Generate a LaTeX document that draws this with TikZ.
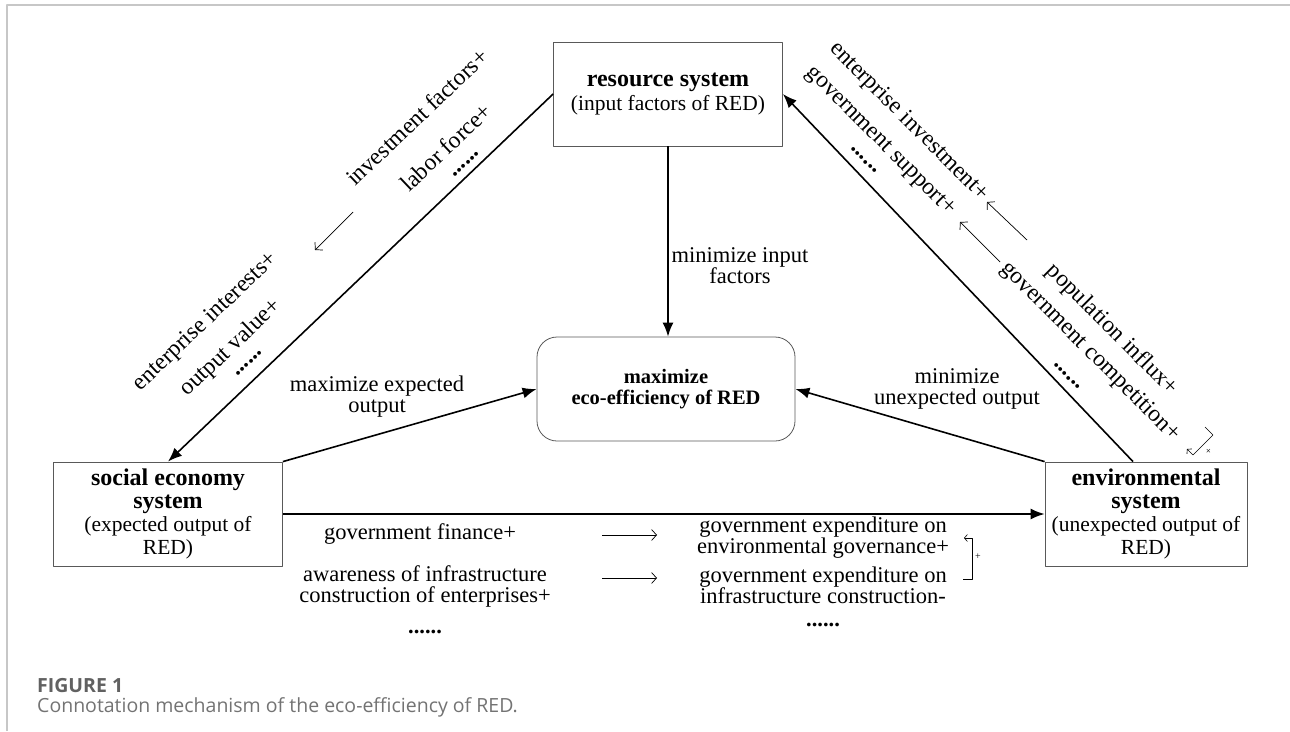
\documentclass[tikz,border=0pt]{standalone}
\usepackage{fontspec}
\setmainfont{Liberation Serif}
\newfontfamily\capfont{Open Sans}
\usetikzlibrary{arrows.meta}

\newcommand{\systitle}[1]{{\fontsize{24}{23.3}\selectfont\bfseries #1}}

\begin{document}
\begin{tikzpicture}[x=1pt,y=1pt,>={Latex[length=14pt,width=11pt]},line join=round,
	sysbox/.style={draw=black!65,line width=0.8pt,minimum width=229pt,minimum height=104pt,inner sep=2pt,align=center,font=\fontsize{21.5}{23.3}\selectfont},
	lbl/.style={inner sep=1pt,align=center,font=\fontsize{22.5}{21}\selectfont},
	dlbl/.style={inner sep=0pt,font=\fontsize{23.5}{24}\selectfont},
	mainarr/.style={->,line width=1.6pt},
	farrow/.style={-{Straight Barb[length=5pt,width=11pt]},line width=0.7pt},
	tinyarr/.style={-{Straight Barb[length=3pt,width=7pt]},line width=0.6pt}]
	
	\useasboundingbox (0,0) rectangle (1290,-731);
	\draw[black!22,line width=1.2pt] (7,-731) -- (7,-5) -- (1290,-5); % frame
	
	% the four systems and the goal
	\node[sysbox] (res) at (668,-94) {\systitle{resource system}\\(input factors of RED)};
	\node[sysbox,minimum width=258pt,rounded corners=20pt,font=\fontsize{20.5}{21.5}\selectfont\bfseries] (eco) at (666,-389) {maximize\\eco-efficiency of RED};
	\node[sysbox] (soc) at (168,-514) {\systitle{social economy}\\\systitle{system}\\(expected output of\\RED)};
	\node[sysbox,minimum width=202pt] (env) at (1146,-514) {\systitle{environmental}\\\systitle{system}\\(unexpected output of\\RED)};
	
	\draw[mainarr] (res.south) -- (res.south |- eco.north);
	\draw[mainarr] (res.west) -- (soc.north);
	\draw[mainarr] ([xshift=-13pt]env.north) -- (res.east);
	\draw[mainarr] (soc.north east) -- (eco.west);
	\draw[mainarr] (env.north west) -- (eco.east);
	\draw[mainarr] (soc.east) -- (env.west);
	
	\node[lbl] (mininp) at (740,-266) {minimize input\\factors};
	\node[lbl] (maxexp) at (377,-397) {maximize expected\\output};
	\node[lbl] (minune) at (957,-389) {minimize\\unexpected output};
	
	% left side
	\node[dlbl,rotate=43.5] (invf) at (417,-117) {investment factors+};
	\node[dlbl,rotate=43.5] (labf) at (446,-147) {labor force+};
	\node[dlbl,rotate=43.5] (dotsa) at (466,-164) {\textbf{......}};
	\node[dlbl,rotate=43.5] (entint) at (206,-322) {enterprise interests+};
	\node[dlbl,rotate=43.5] (outv) at (231,-348) {output value+};
	\node[dlbl,rotate=43.5] (dotsb) at (249,-363) {\textbf{......}};
	\coordinate (la1) at (353,-212);
	\coordinate (la2) at (315,-250);
	\draw[farrow] (la1) -- (la2);
	
	% right side
	\node[dlbl,rotate=-45] (entinv) at (909,-122) {enterprise investment+};
	\node[dlbl,rotate=-45] (govsup) at (880,-142) {government support+};
	\node[dlbl,rotate=-45] (dotsc) at (864,-160) {\textbf{......}};
	\node[dlbl,rotate=-45] (popinf) at (1112,-330) {population influx+};
	\node[dlbl,rotate=-45] (govcom) at (1090,-352) {government competition+};
	\node[dlbl,rotate=-45] (dotsd) at (1067,-376) {\textbf{......}};
	\coordinate (ra1) at (1027,-240);
	\coordinate (ra2) at (987,-202);
	\coordinate (rb1) at (1000,-262);
	\coordinate (rb2) at (960,-222);
	\draw[farrow] (ra1) -- (ra2);
	\draw[farrow] (rb1) -- (rb2);
	\draw[tinyarr] (1205,-427) -- (1213,-435) -- (1193,-455) -- (1187,-449);
	\node[font=\fontsize{10}{10}\selectfont,inner sep=0pt,rotate=-45] (plusr) at (1208,-451) {+};
	
	% bottom
	\node[lbl] (govfin) at (420,-534) {government finance+};
	\node[lbl] (aware) at (425,-586) {awareness of infrastructure\\construction of enterprises+};
	\node[lbl] (dotse) at (425,-632) {\textbf{......}};
	\node[lbl] (gexpa) at (823,-538) {government expenditure on\\environmental governance+};
	\node[lbl] (gexpb) at (823,-585) {government expenditure on\\infrastructure construction-};
	\node[lbl] (dotsf) at (823,-625) {\textbf{......}};
	\coordinate (ba1) at (602,-535);
	\coordinate (ba2) at (657,-535);
	\coordinate (bb1) at (602,-578);
	\coordinate (bb2) at (657,-578);
	\draw[farrow] (ba1) -- (ba2);
	\draw[farrow] (bb1) -- (bb2);
	\draw[tinyarr] (963,-579) -- (972,-579) -- (972,-538) -- (964,-538);
	\node[font=\fontsize{10}{10}\selectfont,inner sep=0pt] (plusb) at (978,-557) {+};
	
	% caption
	\node[anchor=west,inner sep=0pt,text=black!62,font=\capfont\bfseries\fontsize{19.5}{20}\selectfont] (fig) at (37,-686) {FIGURE 1};
	\node[anchor=west,inner sep=0pt,text=black!55,font=\capfont\fontsize{19.5}{20}\selectfont] (cap) at (37,-707) {Connotation mechanism of the eco-efficiency of RED.};
\end{tikzpicture}
\end{document}
